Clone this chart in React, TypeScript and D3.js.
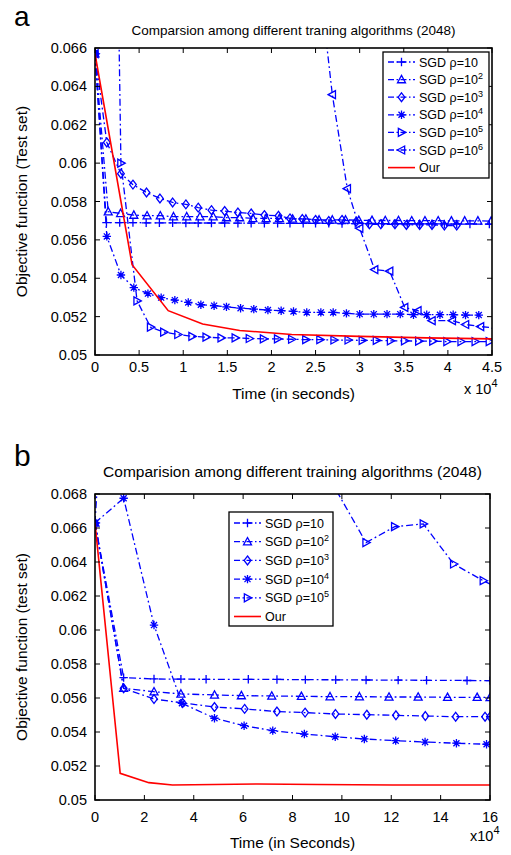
import React from 'react';
import * as d3 from 'd3';

const FONT = '"Liberation Sans", Arial, Helvetica, sans-serif';
const BLUE = '#0000ff';
const RED = '#ff0000';

// ---------- Chart a data (x in units of 10^4 s) ----------
const aXTicks = [0, 0.5, 1, 1.5, 2, 2.5, 3, 3.5, 4, 4.5];
const aXTickLabels = ['0', '0.5', '1', '1.5', '2', '2.5', '3', '3.5', '4', '4.5'];
const aYTicks = [0.05, 0.052, 0.054, 0.056, 0.058, 0.06, 0.062, 0.064, 0.066];
const aYTickLabels = ['0.05', '0.052', '0.054', '0.056', '0.058', '0.06', '0.062', '0.064', '0.066'];

const aRho1X = [0, 0.13, 0.28, 0.43, 0.58, 0.73, 0.88, 1.03, 1.17, 1.32, 1.47, 1.62, 1.77, 1.92, 2.07, 2.21, 2.36, 2.5, 2.65, 2.8, 2.95, 3.1, 3.25, 3.4, 3.54, 3.68, 3.82, 3.96, 4.1, 4.25, 4.47];
const aRho1Y = [0.0657, 0.0569, 0.0569, 0.0569, 0.05689, 0.05689, 0.05689, 0.05688, 0.05688, 0.05688, 0.05688, 0.05687, 0.05687, 0.05687, 0.05687, 0.05686, 0.05686, 0.05686, 0.05686, 0.05685, 0.05685, 0.05685, 0.05685, 0.05684, 0.05684, 0.05684, 0.05684, 0.05683, 0.05683, 0.05683, 0.05682];
const aRho2X = [0, 0.15, 0.29, 0.44, 0.59, 0.74, 0.89, 1.04, 1.19, 1.34, 1.49, 1.64, 1.79, 1.94, 2.09, 2.24, 2.39, 2.54, 2.69, 2.84, 2.99, 3.14, 3.29, 3.44, 3.59, 3.74, 3.89, 4.04, 4.19, 4.34, 4.49];
const aRho2Y = [0.0657, 0.05747, 0.05738, 0.05729, 0.05726, 0.05726, 0.05721, 0.05721, 0.05721, 0.05721, 0.05716, 0.05716, 0.05712, 0.05712, 0.05712, 0.05709, 0.05709, 0.05704, 0.05704, 0.05704, 0.05702, 0.05702, 0.05701, 0.05701, 0.057, 0.057, 0.057, 0.05699, 0.05699, 0.05699, 0.05698];
const aRho3X = [0, 0.134, 0.294, 0.43, 0.584, 0.736, 0.88, 1.03, 1.17, 1.32, 1.47, 1.62, 1.77, 1.92, 2.08, 2.21, 2.35, 2.5, 2.65, 2.8, 2.96, 3.11, 3.24, 3.4, 3.53, 3.68, 3.82, 3.96, 4.1];
const aRho3Y = [0.0657, 0.06108, 0.05945, 0.05888, 0.05847, 0.05816, 0.05795, 0.05785, 0.05768, 0.05755, 0.0575, 0.05743, 0.05738, 0.05729, 0.05726, 0.05712, 0.05709, 0.05704, 0.05698, 0.05704, 0.05695, 0.05681, 0.05681, 0.05681, 0.05678, 0.05678, 0.05678, 0.05675, 0.05675];
const aRho4X = [0, 0.134, 0.294, 0.44, 0.6, 0.75, 0.905, 1.057, 1.2, 1.35, 1.49, 1.65, 1.8, 1.96, 2.11, 2.25, 2.4, 2.56, 2.7, 2.85, 3.0, 3.16, 3.31, 3.46, 3.61, 3.76, 3.91, 4.06, 4.2, 4.35];
const aRho4Y = [0.0657, 0.05618, 0.05417, 0.05351, 0.0532, 0.05299, 0.05286, 0.05274, 0.05262, 0.05257, 0.05251, 0.05244, 0.05239, 0.05234, 0.05231, 0.05227, 0.05222, 0.05222, 0.05222, 0.05217, 0.05213, 0.05213, 0.05213, 0.05213, 0.0521, 0.0521, 0.0521, 0.0521, 0.05208, 0.05208];
const aRho5X = [0, 0.16, 0.294, 0.477, 0.63, 0.78, 0.94, 1.1, 1.26, 1.43, 1.59, 1.75, 1.91, 2.07, 2.23, 2.39, 2.55, 2.71, 2.87, 3.03, 3.19, 3.35, 3.51, 3.67, 3.83, 3.99, 4.15, 4.31, 4.47];
const aRho5Y = [0.0657, 0.1, 0.06, 0.05282, 0.05145, 0.05119, 0.05107, 0.05097, 0.05093, 0.05089, 0.05089, 0.05086, 0.05084, 0.05084, 0.05082, 0.0508, 0.0508, 0.05078, 0.05078, 0.05076, 0.05076, 0.05074, 0.05074, 0.05072, 0.05072, 0.0507, 0.0507, 0.0507, 0.0507];
const aRho6X = [0, 0.13, 0.6, 1.2, 1.8, 2.3, 2.53, 2.69, 2.86, 3.0, 3.17, 3.34, 3.51, 3.66, 3.82, 4.05, 4.2, 4.37, 4.55];
const aRho6Y = [0.0657, 0.15, 0.12, 0.1, 0.09, 0.078, 0.0701, 0.06357, 0.05867, 0.0566, 0.05445, 0.05437, 0.05248, 0.05231, 0.05179, 0.05179, 0.05159, 0.05148, 0.0514];
const aOurX = [0, 0.42, 0.83, 1.22, 1.64, 2.23, 3.0, 3.76, 4.5];
const aOurY = [0.0657, 0.05471, 0.05231, 0.05162, 0.05128, 0.05107, 0.05097, 0.05089, 0.05084];

// ---------- Chart b data (x in units of 10^4 s) ----------
const bXTicks = [0, 2, 4, 6, 8, 10, 12, 14, 16];
const bXTickLabels = ['0', '2', '4', '6', '8', '10', '12', '14', '16'];
const bYTicks = [0.05, 0.052, 0.054, 0.056, 0.058, 0.06, 0.062, 0.064, 0.066, 0.068];
const bYTickLabels = ['0.05', '0.052', '0.054', '0.056', '0.058', '0.06', '0.062', '0.064', '0.066', '0.068'];

const bRho1X = [0, 1.16, 2.39, 3.48, 4.5, 6.21, 7.37, 8.52, 9.75, 10.98, 12.28, 13.43, 15.07, 16];
const bRho1Y = [0.0663, 0.0572, 0.05712, 0.05711, 0.0571, 0.0571, 0.05709, 0.05708, 0.05707, 0.05706, 0.05705, 0.05704, 0.05703, 0.05702];
const bRho2X = [0, 1.16, 2.39, 3.48, 4.84, 5.93, 7.16, 8.36, 9.52, 10.71, 11.91, 13.09, 14.28, 15.48, 16];
const bRho2Y = [0.0663, 0.05657, 0.05637, 0.05624, 0.05618, 0.05614, 0.05612, 0.0561, 0.05608, 0.05608, 0.05606, 0.05606, 0.05604, 0.05604, 0.05603];
const bRho3X = [0, 1.16, 2.39, 3.55, 4.84, 6.06, 7.37, 8.51, 9.74, 11.01, 12.19, 13.38, 14.61, 15.8, 16];
const bRho3Y = [0.0663, 0.05657, 0.05594, 0.05571, 0.05547, 0.05536, 0.0552, 0.05514, 0.05506, 0.05502, 0.05498, 0.05494, 0.0549, 0.0549, 0.0549];
const bRho4X = [0, 1.16, 2.39, 3.52, 4.84, 6.04, 7.2, 8.48, 9.73, 10.91, 12.18, 13.37, 14.64, 15.86];
const bRho4Y = [0.0663, 0.06775, 0.06029, 0.05569, 0.05481, 0.05437, 0.05408, 0.05388, 0.05372, 0.05359, 0.05349, 0.05341, 0.05334, 0.05328];
const bRho5X = [0, 1.16, 2.39, 3.55, 4.84, 6.06, 7.3, 8.5, 9.74, 10.98, 12.14, 13.3, 14.53, 15.73, 16.3];
const bRho5Y = [0.0663, 0.094, 0.09, 0.085, 0.08, 0.077, 0.074, 0.0712, 0.0683, 0.06514, 0.06608, 0.06624, 0.06388, 0.0629, 0.0625];
const bOurX = [0, 1.02, 2.18, 3.14, 6.6, 9.0, 12.07, 16];
const bOurY = [0.0663, 0.05157, 0.05102, 0.05088, 0.05094, 0.05091, 0.05088, 0.05088];

const zip = (xs: number[], ys: number[]) => xs.map((x, i) => [x, ys[i]] as [number, number]);

type Series = { label: string; sup?: string; marker: string | null; color: string; dash: boolean; pts: [number, number][] };

const seriesA: Series[] = [
  { label: 'SGD \u03c1=10', marker: 'plus', color: BLUE, dash: true, pts: zip(aRho1X, aRho1Y) },
  { label: 'SGD \u03c1=10', sup: '2', marker: 'triup', color: BLUE, dash: true, pts: zip(aRho2X, aRho2Y) },
  { label: 'SGD \u03c1=10', sup: '3', marker: 'diamond', color: BLUE, dash: true, pts: zip(aRho3X, aRho3Y) },
  { label: 'SGD \u03c1=10', sup: '4', marker: 'star', color: BLUE, dash: true, pts: zip(aRho4X, aRho4Y) },
  { label: 'SGD \u03c1=10', sup: '5', marker: 'triright', color: BLUE, dash: true, pts: zip(aRho5X, aRho5Y) },
  { label: 'SGD \u03c1=10', sup: '6', marker: 'trileft', color: BLUE, dash: true, pts: zip(aRho6X, aRho6Y) },
  { label: 'Our', marker: null, color: RED, dash: false, pts: zip(aOurX, aOurY) },
];

const seriesB: Series[] = [
  { label: 'SGD \u03c1=10', marker: 'plus', color: BLUE, dash: true, pts: zip(bRho1X, bRho1Y) },
  { label: 'SGD \u03c1=10', sup: '2', marker: 'triup', color: BLUE, dash: true, pts: zip(bRho2X, bRho2Y) },
  { label: 'SGD \u03c1=10', sup: '3', marker: 'diamond', color: BLUE, dash: true, pts: zip(bRho3X, bRho3Y) },
  { label: 'SGD \u03c1=10', sup: '4', marker: 'star', color: BLUE, dash: true, pts: zip(bRho4X, bRho4Y) },
  { label: 'SGD \u03c1=10', sup: '5', marker: 'triright', color: BLUE, dash: true, pts: zip(bRho5X, bRho5Y) },
  { label: 'Our', marker: null, color: RED, dash: false, pts: zip(bOurX, bOurY) },
];

function markerPath(type: string, cx: number, cy: number): string {
  const r = 4.2;
  switch (type) {
    case 'plus':
      return `M${cx - r},${cy}H${cx + r}M${cx},${cy - r}V${cy + r}`;
    case 'star': {
      const d = r * 0.72;
      return `M${cx - r},${cy}H${cx + r}M${cx},${cy - r}V${cy + r}M${cx - d},${cy - d}L${cx + d},${cy + d}M${cx - d},${cy + d}L${cx + d},${cy - d}`;
    }
    case 'triup':
      return `M${cx},${cy - r}L${cx + r * 0.95},${cy + r * 0.75}L${cx - r * 0.95},${cy + r * 0.75}Z`;
    case 'diamond':
      return `M${cx},${cy - r * 1.05}L${cx + r * 0.8},${cy}L${cx},${cy + r * 1.05}L${cx - r * 0.8},${cy}Z`;
    case 'triright':
      return `M${cx + r},${cy}L${cx - r * 0.75},${cy - r * 0.95}L${cx - r * 0.75},${cy + r * 0.95}Z`;
    case 'trileft':
      return `M${cx - r},${cy}L${cx + r * 0.75},${cy - r * 0.95}L${cx + r * 0.75},${cy + r * 0.95}Z`;
  }
  return '';
}

const DASH = '7,3,1.8,3';

type Cfg = {
  id: string;
  left: number; right: number; top: number; bottom: number;
  xDomain: [number, number]; yDomain: [number, number];
  xTicks: number[]; xTickLabels: string[]; yTicks: number[]; yTickLabels: string[];
  series: Series[];
  letter: string; letterY: number; letterSize: number;
  title: string; titleY: number; titleSize: number;
  yLabel: string; xLabel: string; xLabelY: number;
  expX: number; expY: number; expText: string;
  xTickLabelY: number;
  legend: { x: number; y: number; w: number; h: number; rowY0: number; rowStep: number };
};

const Panel: React.FC<{ cfg: Cfg }> = ({ cfg }) => {
  const x = d3.scaleLinear().domain(cfg.xDomain).range([cfg.left, cfg.right]);
  const y = d3.scaleLinear().domain(cfg.yDomain).range([cfg.bottom, cfg.top]);
  const line = d3.line<[number, number]>().x(d => x(d[0])).y(d => y(d[1]));
  const tl = 5;
  const lg = cfg.legend;
  return (
    <g>
      <defs>
        <clipPath id={cfg.id}>
          <rect x={cfg.left} y={cfg.top} width={cfg.right - cfg.left} height={cfg.bottom - cfg.top} />
        </clipPath>
      </defs>
      <text x={14} y={cfg.letterY} fontSize={cfg.letterSize} fontFamily={FONT}>{cfg.letter}</text>
      <text x={(cfg.left + cfg.right) / 2} y={cfg.titleY} fontSize={cfg.titleSize} fontFamily={FONT} textAnchor="middle">{cfg.title}</text>
      <g clipPath={`url(#${cfg.id})`}>
        {cfg.series.map((s, i) => (
          <g key={i}>
            <path d={line(s.pts) || ''} fill="none" stroke={s.color} strokeWidth={s.dash ? 1.3 : 1.6} strokeDasharray={s.dash ? DASH : undefined} />
            {s.marker && s.pts.map((p, j) => (
              <path key={j} d={markerPath(s.marker as string, x(p[0]), y(p[1]))} fill="none" stroke={s.color} strokeWidth={1.3} />
            ))}
          </g>
        ))}
      </g>
      {cfg.xTicks.map((t, i) => (
        <g key={'xt' + i}>
          <line x1={x(t)} x2={x(t)} y1={cfg.bottom} y2={cfg.bottom - tl} stroke="#000" strokeWidth={1} />
          <line x1={x(t)} x2={x(t)} y1={cfg.top} y2={cfg.top + tl} stroke="#000" strokeWidth={1} />
          <text x={x(t)} y={cfg.xTickLabelY} fontSize={14.5} fontFamily={FONT} textAnchor="middle">{cfg.xTickLabels[i]}</text>
        </g>
      ))}
      {cfg.yTicks.map((t, i) => (
        <g key={'yt' + i}>
          <line x1={cfg.left} x2={cfg.left + tl} y1={y(t)} y2={y(t)} stroke="#000" strokeWidth={1} />
          <line x1={cfg.right} x2={cfg.right - tl} y1={y(t)} y2={y(t)} stroke="#000" strokeWidth={1} />
          <text x={cfg.left - 8} y={y(t) + 5} fontSize={14.5} fontFamily={FONT} textAnchor="end">{cfg.yTickLabels[i]}</text>
        </g>
      ))}
      <rect x={cfg.left} y={cfg.top} width={cfg.right - cfg.left} height={cfg.bottom - cfg.top} fill="none" stroke="#000" strokeWidth={1.6} />
      <text transform={`translate(27,${(cfg.top + cfg.bottom) / 2}) rotate(-90)`} fontSize={15.5} fontFamily={FONT} textAnchor="middle">{cfg.yLabel}</text>
      <text x={(cfg.left + cfg.right) / 2} y={cfg.xLabelY} fontSize={15.5} fontFamily={FONT} textAnchor="middle">{cfg.xLabel}</text>
      <text x={cfg.expX} y={cfg.expY} fontSize={14.5} fontFamily={FONT}>{cfg.expText}<tspan dy={-7} fontSize={11}>4</tspan></text>
      <rect x={lg.x} y={lg.y} width={lg.w} height={lg.h} fill="#fff" stroke="#000" strokeWidth={1.3} />
      {cfg.series.map((s, i) => {
        const ry = lg.rowY0 + i * lg.rowStep;
        const x0 = lg.x + 5;
        const x1 = lg.x + 32;
        return (
          <g key={'lg' + i}>
            <line x1={x0} x2={x1} y1={ry} y2={ry} stroke={s.color} strokeWidth={s.dash ? 1.3 : 1.6} strokeDasharray={s.dash ? '6,2.5,1.5,2.5' : undefined} />
            {s.marker && <path d={markerPath(s.marker, (x0 + x1) / 2, ry)} fill="none" stroke={s.color} strokeWidth={1.3} />}
            <text x={x1 + 4} y={ry + 4.5} fontSize={12.5} fontFamily={FONT}>
              {s.label}
              {s.sup && <tspan dy={-5} fontSize={9}>{s.sup}</tspan>}
            </text>
          </g>
        );
      })}
    </g>
  );
};

const cfgA: Cfg = {
  id: 'clipA', left: 95, right: 492, top: 48, bottom: 355,
  xDomain: [0, 4.5], yDomain: [0.05, 0.066],
  xTicks: aXTicks, xTickLabels: aXTickLabels, yTicks: aYTicks, yTickLabels: aYTickLabels,
  series: seriesA,
  letter: 'a', letterY: 26, letterSize: 28,
  title: 'Comparsion among different traning algorithms (2048)', titleY: 35, titleSize: 13.5,
  yLabel: 'Objective function (Test set)', xLabel: 'Time (in seconds)', xLabelY: 399,
  expX: 464, expY: 394, expText: 'x 10',
  xTickLabelY: 372,
  legend: { x: 383, y: 52, w: 106, h: 126, rowY0: 62, rowStep: 17.6 },
};

const cfgB: Cfg = {
  id: 'clipB', left: 95, right: 490, top: 494, bottom: 800,
  xDomain: [0, 16], yDomain: [0.05, 0.068],
  xTicks: bXTicks, xTickLabels: bXTickLabels, yTicks: bYTicks, yTickLabels: bYTickLabels,
  series: seriesB,
  letter: 'b', letterY: 466, letterSize: 30,
  title: 'Comparision among different training algorithms (2048)', titleY: 477, titleSize: 15.5,
  yLabel: 'Objective function (test set)', xLabel: 'Time (in Seconds)', xLabelY: 848,
  expX: 470, expY: 841, expText: 'x10',
  xTickLabelY: 822,
  legend: { x: 229, y: 512, w: 104, h: 114, rowY0: 523, rowStep: 18.7 },
};

export default function App() {
  return (
    <div style={{ position: 'absolute', left: 0, top: 0 }}>
      <svg width={511} height={855} style={{ display: 'block', background: '#fff' }}>
        <Panel cfg={cfgA} />
        <Panel cfg={cfgB} />
      </svg>
    </div>
  );
}
